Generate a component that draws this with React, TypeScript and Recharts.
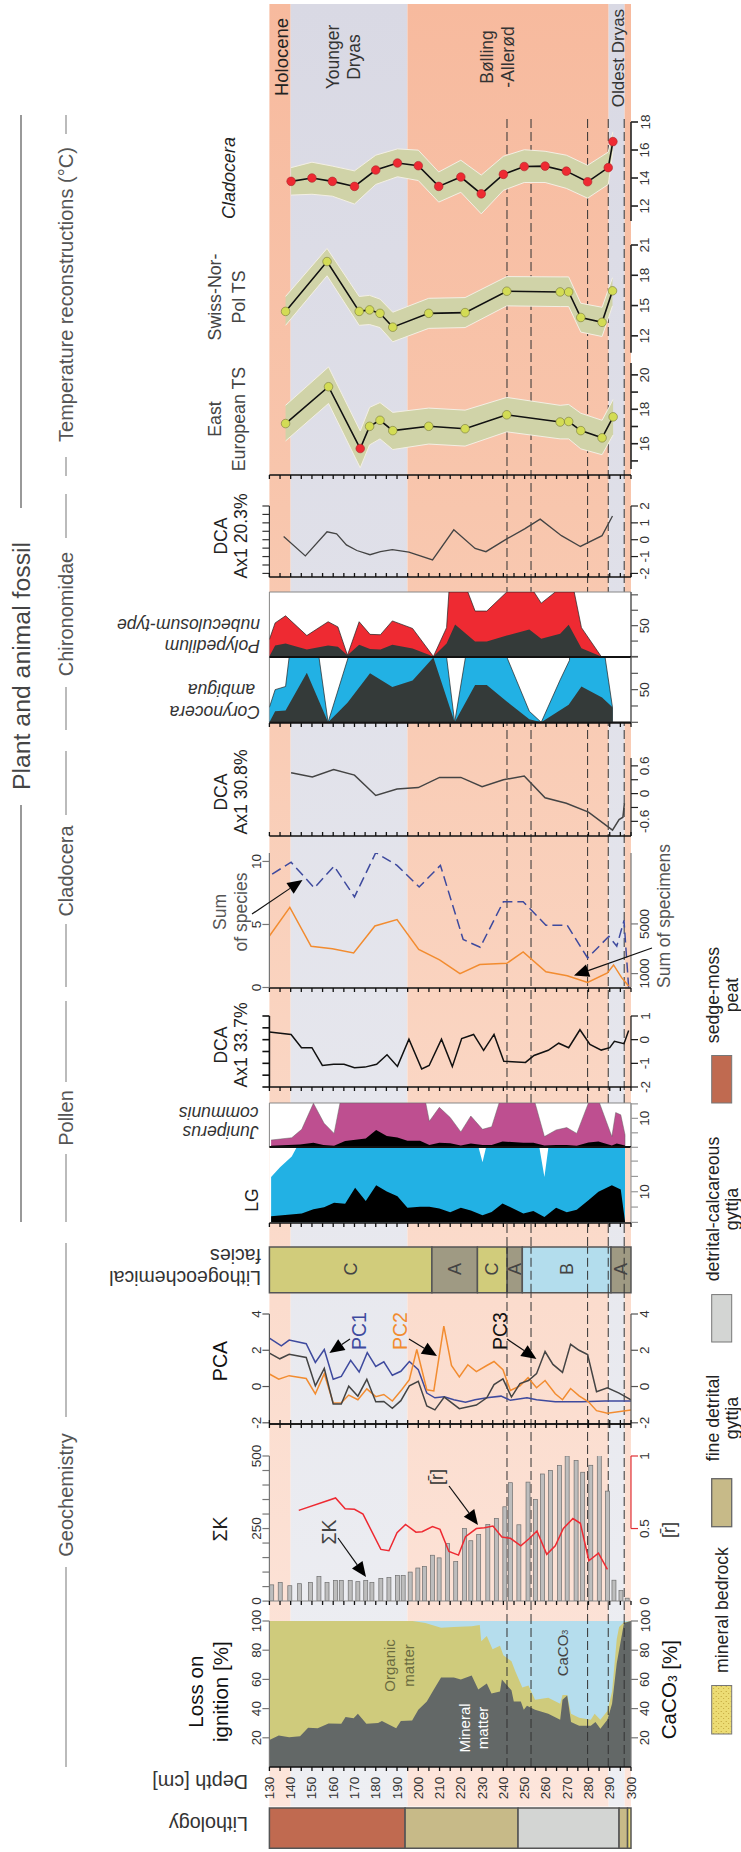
import React from 'react';
import { ComposedChart, XAxis, YAxis, Line, Area, Bar, ReferenceArea, ReferenceLine } from 'recharts';

type P = number[];
const FONT = '"Liberation Sans", Arial, sans-serif';
const X0 = 269.4, X1 = 631, AW = 40, PAD = 14;
const DEPTH_TICKS = [130,135,140,145,150,155,160,165,170,175,180,185,190,195,200,205,210,215,220,225,230,235,240,245,250,255,260,265,270,275,280,285,290,295,300];
const DEPTH_LABELS = [130,140,150,160,170,180,190,200,210,220,230,240,250,260,270,280,290,300];
const ZONE_DASHES = [241.7, 253, 279.6, 289.3, 296.8];
const ZONES = [
  { a: 130, b: 140, f: 'url(#gO)' }, { a: 140, b: 194.9, f: 'url(#gB)' }, { a: 194.9, b: 289.5, f: 'url(#gO)' },
  { a: 289.5, b: 297, f: 'url(#gB)' }, { a: 297, b: 300, f: 'url(#gO)' },
];
const LITHOLOGY = [
  { a: 130, b: 193.8, f: '#c06a50' }, { a: 193.8, b: 246.9, f: '#c7ba88' }, { a: 246.9, b: 294.4, f: '#d3d5d3' },
  { a: 294.4, b: 298.4, f: '#c7ba88' }, { a: 298.4, b: 300, f: '#e8d971' },
];
const FACIES = [
  { a: 130, b: 206.4, f: '#d1cc7b', t: 'C' }, { a: 206.4, b: 227.8, f: '#9f9a83', t: 'A' }, { a: 227.8, b: 241.8, f: '#d1cc7b', t: 'C' },
  { a: 241.8, b: 248.9, f: '#9f9a83', t: 'A' }, { a: 248.9, b: 290.6, f: '#b3dded', t: 'B' }, { a: 290.6, b: 300, f: '#9f9a83', t: 'A' },
];

const cladoD = [140.2,150,159.6,170,180,190.2,200,209.6,220,229.6,240,249.8,259.6,269.6,279.6,289.3,291.5];
const cladoT = [13.76,14,13.76,13.4,14.57,15.07,14.88,13.4,14.07,12.87,14.26,14.82,14.85,14.49,13.73,14.74,16.6];
const cladoHi = [14.74,15.13,14.85,14.51,15.63,16.08,15.99,14.43,15.27,14.21,15.55,16.02,15.91,15.63,14.91,15.85,17.3];
const cladoLo = [12.78,12.84,12.7,12.14,13.54,14.09,13.82,12.28,12.98,11.44,13.12,13.68,13.68,13.26,12.56,13.54,15.9];
const swissD = [137.6,157.1,172.2,177.1,182,188,204.9,222,241.6,266.7,270.7,276.4,286.4,291.3];
const swissT = [14.42,19.36,14.42,14.57,14.23,12.86,14.23,14.3,16.42,16.35,16.35,13.82,13.34,16.46];
const swissHi = [15.9,20.66,15.9,16.01,15.64,14.34,15.72,15.79,17.87,17.84,17.84,15.23,14.83,17.76];
const swissLo = [13.04,17.95,13.04,13.12,12.82,11.41,12.74,12.82,14.97,14.9,14.9,12.37,11.93,14.97];
const eastD = [137.6,157.8,172.7,177.1,182,188,204.9,222,241.6,266.7,270.7,276.4,286.4,291.6];
const eastT = [17.17,19.31,15.72,17.01,17.36,16.76,17.01,16.87,17.68,17.26,17.29,16.76,16.34,17.56];
const eastHi = [18.23,20.46,16.74,18.11,18.39,17.82,18.07,17.95,18.69,18.23,18.28,17.77,17.36,18.57];
const eastLo = [16.16,18.34,14.6,15.93,16.28,15.66,15.98,15.86,16.69,16.28,16.28,15.7,15.36,16.51];
const eastCold = [172.7];

const dcaChiro: P[] = [[136.7,.19],[146.9,-.96],[157.1,.47],[161.6,.35],[166.2,-.31],[171.1,-.64],[177.3,-.89],[182.2,-.71],[187.8,-.59],[195.6,-.73],[206.7,-1.2],[216.7,.59],[226.7,-.52],[231.8,-.71],[241.6,.05],[250,.64],[257.3,1.22],[267.3,.24],[276.2,-.4],[286.4,.24],[291.3,1.41]];
const polyTotal: P[] = [[130,27.6],[132.7,54.5],[137.6,66],[147.6,34],[157.6,56.4],[162.2,48],[166.7,2],[172.2,56.4],[177.3,35.9],[182.2,35.3],[187.8,57.7],[197.3,45.5],[207.1,0],[213.3,46.8],[214.4,104.6],[223.3,104.6],[226.7,73.7],[232.2,73.7],[241.6,104.6],[254.4,104.6],[257.8,86.5],[264.4,104.6],[273.3,104.6],[276.7,46.8],[286,0]];
const polyDark: P[] = [[130,.6],[132.7,17.9],[137.6,21.2],[147.6,11.5],[157.6,17.9],[162.2,16],[166.7,2],[172.2,19.2],[177.3,12.2],[182.2,11.5],[187.8,19.2],[197.3,12.8],[207.1,0],[213.3,21.2],[217.3,51.9],[226.7,24.4],[232.2,24.4],[241.6,34],[252.2,43.6],[257.8,28.8],[266.7,37],[270.7,51.3],[276.7,13.5],[286,0]];
const coryTotal: P[] = [[130,22.9],[132.7,50],[137.6,54.8],[139.3,100],[153.3,100],[157.6,0],[167.1,100],[213.3,100],[217.1,0],[222.2,100],[241.6,100],[252.2,16.9],[257.8,0],[266.7,65],[271.1,95],[271.1,100],[287.8,100],[291.3,22.9],[291.3,0]];
const coryDark: P[] = [[130,0],[132.7,16.9],[137.6,18.1],[147.6,75.9],[157.6,0],[166.7,30],[177.3,75.3],[187.8,54.2],[197.3,63.9],[207.1,99.4],[217.1,0],[226.7,57.2],[232.2,57.2],[241.6,31.9],[252.2,4.8],[257.8,0],[270.7,27],[276.7,54.8],[286.4,38],[291.3,22.9],[291.3,0]];
const dcaClado: P[] = [[140.2,.45],[150.2,.36],[160.2,.52],[170,.4],[180,-.04],[190,.1],[200,.13],[210,.35],[220,.35],[230,.15],[240,.3],[249.8,.38],[259.6,-.09],[269.6,-.21],[280,-.4],[291.3,-.79],[294.4,-.56],[296.2,-.51],[296.9,-.21]];
const species: P[] = [[131.3,9],[140.2,9.94],[151.1,7.9],[160.4,9.63],[170,7.19],[180,10.7],[190,9.69],[200.4,7.97],[210.4,9.69],[221.1,3.81],[229.1,3.19],[240,6.81],[249.3,6.81],[260,4.94],[270,4.94],[279.6,2.34],[289.6,4.06],[293.3,3.28],[296.7,5.31],[298.9,0]];
const specimens: P[] = [[130,4032],[139.6,6336],[149.6,3200],[159.6,3008],[169.6,2656],[179.6,4832],[190,5344],[200.2,2944],[210,2112],[219.6,992],[228.9,1728],[241.6,1824],[249.3,2752],[260,1152],[270,832],[279.6,288],[288.9,1056],[291.8,1696],[295.6,672],[298.9,0]];
const dcaPollen: P[] = [[130,.32],[140.2,.22],[145.1,-.34],[150,-.34],[154.9,-1.09],[160.2,-1.04],[165.1,-1.04],[170,-1.19],[174.9,-1.16],[180.4,-1.04],[185.3,-.64],[190.2,-1.13],[195.6,.02],[201.6,-1.24],[205.1,-1.09],[210.9,.02],[216,-1.14],[220.4,.05],[226,.22],[230.7,-.45],[235.6,.22],[240.2,-.91],[250.4,-.96],[254.4,-.67],[261.1,-.45],[266,-.15],[270.7,-.34],[276,.42],[280.7,-.2],[286,-.44],[290,-.34],[292.2,-.07],[296.7,-.17],[298.9,.39]];
const junipTotal: P[] = [[130.8,2.5],[140.5,3.3],[145.2,6.2],[150.7,15.2],[155.7,8.3],[160.4,4.8],[163.2,15.3],[203.5,15.3],[205.2,9],[209.9,13.8],[215,10.3],[220,5.3],[224.7,10.8],[230.2,6.2],[234.5,7.1],[238,15.3],[254.9,15.3],[259.3,3.7],[264.8,6],[269.8,6.8],[274.5,4.8],[280,15.3],[285.2,15.3],[291,3.7],[292.8,12],[295.2,11.2],[297.2,4.3],[297.2,0]];
const junipDark: P[] = [[130.8,.5],[144.4,1],[150.7,1.6],[155.4,.8],[160.4,.5],[165.6,2.2],[175.3,3],[180.2,6],[185.2,3.9],[190.2,3.4],[194.9,2.3],[200.8,2.3],[205.2,.8],[209.9,1.6],[215,1.4],[220,.6],[224.7,1.3],[230.2,.8],[234.5,.8],[239.6,2],[249.4,1.6],[254.1,1.6],[259.3,.6],[264.8,.8],[269.8,.8],[274.5,.5],[280,1.7],[284.7,2],[291,.6],[293.3,1.3],[297.2,.6],[297.2,0]];
const lgTotal: P[] = [[130.8,14.8],[135,18],[140.5,21.5],[142.9,24.6],[228.3,24.6],[230.2,19.6],[231.9,24.6],[256.9,24.6],[259.3,14.8],[261.2,24.6],[297.2,24.6],[297.2,0]];
const lgDark: P[] = [[130.8,2],[145.2,2.9],[150.7,4.3],[155.7,4.9],[160.4,6.4],[165.6,6.1],[170.3,11.3],[175.3,7],[180.2,12.1],[185.2,10.1],[190.2,8.5],[194.9,4.8],[200.8,5.1],[205.2,5.1],[209.9,4.5],[215,3.3],[220,4.8],[224.7,3.9],[230.2,2.3],[234.5,3.4],[239.6,6.2],[249.4,2.9],[254.1,3.7],[259.3,1.8],[264.8,4.8],[269.8,3.3],[274.5,4.1],[280,7.2],[284.7,10],[291,12.1],[295.2,10.7],[297.2,.3]];
const pc1: P[] = [[130,2.67],[135.6,2.24],[139.3,2.56],[147.3,2.36],[151.6,1.33],[155.8,2.04],[160,.4],[163.8,.56],[168.2,1.44],[172.2,.8],[176,1.87],[180,1.11],[183.8,1.36],[187.8,.62],[191.8,.84],[195.8,1.38],[200,.93],[204,-.36],[207.8,-.62],[212.2,-.56],[216.7,-.73],[222.2,-.87],[226.7,-.73],[232.2,-.62],[238.9,-.53],[243.3,-.76],[251.1,-.62],[255.6,-.73],[264.4,-.84],[276.7,-.84],[287.8,-.8],[300,-.8]];
const pc2: P[] = [[130,.69],[134.4,.4],[139.3,.6],[147.3,.44],[151.6,-.4],[155.8,.71],[160,-.91],[163.8,-.89],[167.3,-.47],[171.6,-.73],[175.8,-.13],[180,-.56],[183.8,-.44],[187.8,-.8],[192.2,-.18],[195.8,.38],[199.3,2.04],[204,-.18],[207.3,-.24],[212,3.33],[215.6,1.16],[219.3,.53],[223.3,1.2],[227.3,.82],[232.2,1.16],[235.6,1.38],[239.8,.93],[243.3,-.22],[247.8,.04],[251.6,.49],[255.6,-.07],[259.6,.33],[264.4,-.4],[267.8,-.73],[271.6,-.11],[275.6,-.51],[280,-.84],[283.8,-1.33],[288.9,-1.47],[300,-1.29]];
const pc3: P[] = [[130,1.84],[134.9,1.53],[139.3,1.78],[147.3,1.6],[151.6,.04],[155.8,1],[160,-.96],[163.8,-.96],[167.3,.02],[171.6,-.53],[175.8,.4],[180,-.84],[183.8,-.82],[187.8,-1.2],[191.8,-.78],[195.8,.04],[200,.29],[204,-1.07],[207.8,-1.29],[212.2,-.58],[219.3,-1.22],[227.3,-1.02],[232.2,-.62],[235.6,.11],[239.8,.42],[243.8,-.58],[247.8,.16],[251.8,.33],[255.6,.71],[259.6,1.93],[263.3,1.22],[267.8,.78],[271.6,2.33],[275.6,2],[279.6,1.76],[283.8,-.29],[288.9,-.07],[294.4,-.36],[300,-.73]];
const sumK: P[] = [[131.1,56],[135.1,64],[139.6,53],[144.2,60],[149.3,64],[153.3,85],[157.1,64],[161.1,71],[163.8,71],[168,71],[171.6,67],[175.3,71],[178.2,64],[182.4,78],[186.2,81],[190.2,88],[192.9,88],[196.2,100],[199.8,114],[202.9,119],[206.7,158],[209.8,149],[213.8,199],[217.6,136],[221.8,250],[224.7,208],[228.4,229],[232.7,264],[236.7,285],[240.7,325],[243.3,408],[247.3,263],[251.6,410],[255.1,350],[258.4,438],[262.2,450],[266.4,467],[270,500],[274.2,485],[277.3,444],[281.1,468],[285.1,514],[288.9,379],[292,72],[295.3,36],[298.2,10]];
const rBar: P[] = [[143.8,.625],[161.1,.711],[165.6,.636],[170,.633],[174,.6],[182.4,.356],[186.2,.347],[190,.472],[194,.528],[198.9,.475],[201.8,.478],[206.7,.514],[210.2,.494],[214.4,.342],[218.9,.317],[222.2,.444],[227.3,.5],[231.1,.506],[235.1,.517],[239.3,.442],[243.3,.433],[248.2,.381],[252.2,.431],[255.8,.483],[260.4,.322],[264.4,.381],[268.2,.5],[272.7,.569],[276.2,.536],[280.2,.278],[284.7,.331],[288.9,.219]];
const mineral: P[] = [[130,18.5],[134.4,21.5],[139.3,20.4],[144.4,21],[148.2,26.8],[152.7,26.5],[157.8,29.8],[163.8,29.6],[165.8,34.3],[169.6,33.4],[171.6,36.5],[175.6,29.6],[181.1,30.1],[182.9,31.5],[189.6,26.5],[191.8,31.5],[197.1,31.8],[200,39.2],[204,44.8],[207.3,53],[210.7,61.3],[216.7,61.3],[220,59.9],[225.1,62.7],[228.2,53],[232.2,57.2],[234.4,50.3],[238.4,51.7],[239.3,59.9],[243.8,52.5],[244.9,44.8],[248.2,44.8],[249.6,39.2],[251.1,42],[254.9,39.2],[261.1,36.5],[266.7,32.3],[267.8,46.1],[270,48.9],[271.8,30.9],[275.6,28.2],[281.1,28.2],[283.3,30.9],[285.6,26.2],[288.9,32.3],[291.1,43.4],[293.3,71],[296.7,98.6],[300,100]];
const organic: P[] = [[130,100],[197.3,100],[203.3,98.6],[210.7,95.3],[216.7,95.9],[225.1,96.4],[228.9,97.2],[229.6,86.2],[232.2,89.8],[234.9,80.7],[238.4,83.1],[240,76.5],[243.8,72.4],[245.6,65.5],[248.9,54.4],[251.8,55.8],[254.9,46.1],[261.1,47.5],[266.7,43.4],[267.8,49.4],[270,49.4],[271.8,36.5],[275.6,33.7],[281.1,32.3],[282.9,36.5],[285.6,32.3],[288.9,38.4],[291.1,51.7],[293.3,87.6],[294.4,95.9],[296.7,99.2],[300,100]];
const caco3: P[] = [[197.3,100],[300,100]];

const rows = (p: P[]) => p.map(([d, v]) => ({ d, v }));
const temps = (d: number[], t: number[], hi: number[], lo: number[]) => d.map((x, i) => ({ d: x, v: t[i], range: [lo[i], hi[i]] }));
const dx = (d: number) => X0 + (d - 130) * (X1 - X0) / 170;
const depthRows = DEPTH_TICKS.map((d) => ({ d, v: 0 }));

const tickLabel = (labels: number[], x: number, fill = '#333', size = 13.5) => (p: any) =>
  labels.includes(p.payload.value)
    ? <text x={x} y={p.y} transform={`rotate(-90 ${x} ${p.y})`} textAnchor="middle" dominantBaseline="central" fontSize={size} fill={fill} fontFamily={FONT}>{p.payload.value}</text>
    : <g />;

function Panel(props: any) {
  const { top, bottom, domain, rDomain, lt, ll = [], rt, rl = [], lc = '#777', rc = '#222', lw = 1.2, rw = 1.2, data, children } = props;
  return (
    <div style={{ position: 'absolute', left: 0, top: top - PAD, pointerEvents: 'none' }}>
      <ComposedChart width={741} height={bottom - top + 2 * PAD} data={data} margin={{ top: PAD, bottom: PAD, left: X0 - AW, right: 741 - X1 - AW }}>
        <XAxis hide type="number" dataKey="d" domain={[130, 300]} allowDataOverflow />
        <YAxis yAxisId="l" orientation="left" width={AW} type="number" domain={domain} allowDataOverflow interval={0}
          ticks={lt || []} axisLine={lt ? { stroke: lc, strokeWidth: lw } : false} tickLine={lt ? { stroke: lc, strokeWidth: lw } : false} tickSize={7}
          tick={tickLabel(ll, X0 - 13)} />
        <YAxis yAxisId="r" orientation="right" width={AW} type="number" domain={rDomain || domain} allowDataOverflow interval={0}
          ticks={rt || []} axisLine={rt ? { stroke: rc, strokeWidth: rw } : false} tickLine={rt ? { stroke: rc, strokeWidth: rw } : false} tickSize={7}
          tick={tickLabel(rl, X1 + 14)} />
        {children}
      </ComposedChart>
    </div>
  );
}

function DepthAxis({ y, up = false, labels = false, line = '#111', lineW = 1.6 }: any) {
  const h = labels ? 45 : 16;
  return (
    <div style={{ position: 'absolute', left: 0, top: up ? y - (h - 1) : y - 1, pointerEvents: 'none' }}>
      <ComposedChart width={741} height={h} data={depthRows} margin={{ top: 0, bottom: 0, left: X0, right: 741 - X1 }}>
        <XAxis type="number" dataKey="d" domain={[130, 300]} allowDataOverflow orientation={up ? 'top' : 'bottom'} height={h - 1} ticks={DEPTH_TICKS} interval={0}
          axisLine={{ stroke: line, strokeWidth: lineW }} tickLine={{ stroke: '#111', strokeWidth: 1.3 }} tickSize={4}
          tick={labels
            ? (p: any) => DEPTH_LABELS.includes(p.payload.value)
              ? <text x={p.x} y={22} transform={`rotate(-90 ${p.x} 22)`} textAnchor="middle" dominantBaseline="central" fontSize={13.5} fill="#333" fontFamily={FONT}>{p.payload.value}</text>
              : <g />
            : () => <g />} />
        <YAxis hide domain={[0, 1]} />
        <Line dataKey="v" stroke="none" dot={false} activeDot={false} isAnimationActive={false} />
      </ComposedChart>
    </div>
  );
}

const AreaFill = ({ rowsData, fill, stroke = 'none', sw = 0.7 }: any) => (
  <Area yAxisId="l" data={rowsData} dataKey="v" type="linear" fill={fill} fillOpacity={1} stroke={stroke} strokeWidth={sw} dot={false} activeDot={false} isAnimationActive={false} />
);
const Trace = ({ rowsData, stroke, sw = 1.5, dash, axis = 'l' }: any) => (
  <Line yAxisId={axis} data={rowsData} dataKey="v" type="linear" stroke={stroke} strokeWidth={sw} strokeDasharray={dash} dot={false} activeDot={false} isAnimationActive={false} />
);
const Dashes = () => <>{ZONE_DASHES.map((d) => <ReferenceLine key={d} yAxisId="l" x={d} stroke="#333" strokeWidth={1} strokeDasharray="9 4" />)}</>;
const WideBar = (p: any) => <rect x={p.x + p.width / 2 - 2} y={p.y} width={4} height={p.height} fill="#bdbdbd" stroke="#6e6e6e" strokeWidth={0.7} />;

const mkDot = (cold: number[] | 'all') => (p: any) => {
  const red = cold === 'all' || cold.includes(p.payload.d);
  return <circle key={p.index} cx={p.cx} cy={p.cy} r={4.3} fill={red ? '#ee2a32' : '#d3dc55'} stroke={red ? '#a8262b' : '#77793a'} strokeWidth={0.6} />;
};
function TempPanel({ top, bottom, domain, ticks, labels, table, cold }: any) {
  return (
    <Panel top={top} bottom={bottom} domain={domain} rt={ticks} rl={labels} rw={1.6}>
      <Area yAxisId="l" data={table} dataKey="range" type="linear" fill="#d0d3a8" fillOpacity={1} stroke="#f3efe4" strokeWidth={1} dot={false} activeDot={false} isAnimationActive={false} />
      <Line yAxisId="l" data={table} dataKey="v" type="linear" stroke="#111" strokeWidth={1.6} dot={mkDot(cold)} activeDot={false} isAnimationActive={false} />
    </Panel>
  );
}

const V = ({ x, y, s = 18, c = '#333', i = false, children }: any) => (
  <text x={x} y={y} transform={`rotate(-90 ${x} ${y})`} textAnchor="middle" dominantBaseline="central" fontSize={s} fill={c} fontStyle={i ? 'italic' : 'normal'} fontFamily={FONT}>{children}</text>
);
const U = ({ x, y, s = 18, c = '#333', i = false, children }: any) => (
  <text x={x} y={y} transform={`rotate(180 ${x} ${y})`} textAnchor="start" dominantBaseline="central" fontSize={s} fill={c} fontStyle={i ? 'italic' : 'normal'} fontFamily={FONT}>{children}</text>
);
function Arrow({ x1, y1, x2, y2, len = 15, half = 6.5 }: any) {
  const a = Math.atan2(y2 - y1, x2 - x1);
  const bx = x2 - len * Math.cos(a), by = y2 - len * Math.sin(a);
  const nx = -Math.sin(a) * half, ny = Math.cos(a) * half;
  return (
    <g>
      <line x1={x1} y1={y1} x2={bx} y2={by} stroke="#111" strokeWidth={1.2} />
      <polygon points={`${x2},${y2} ${bx + nx},${by + ny} ${bx - nx},${by - ny}`} fill="#000" />
    </g>
  );
}
const RULE_1 = [[115, 508], [805, 1222]];
const RULE_2 = [[115, 134], [457, 476], [494, 538], [687, 730], [751, 815], [924, 987], [1001, 1082], [1154, 1222], [1243, 1417], [1567, 1767]];

export default function App() {
  const cladoTable = temps(cladoD, cladoT, cladoHi, cladoLo);
  const swissTable = temps(swissD, swissT, swissHi, swissLo);
  const eastTable = temps(eastD, eastT, eastHi, eastLo);
  return (
    <div style={{ position: 'absolute', left: 0, top: 0, width: 741, height: 1852, overflow: 'hidden', background: '#fff', fontFamily: FONT }}>
      <Panel top={4} bottom={1806.5} domain={[0, 1]}>
        <defs>
          <linearGradient id="gO" x1="0" y1="0" x2="0" y2="1"><stop offset="0" stopColor="#f7ba9e" /><stop offset="0.28" stopColor="#f8c6ad" /><stop offset="0.55" stopColor="#fad3bf" /><stop offset="0.72" stopColor="#fbdccd" /><stop offset="1" stopColor="#fde5db" /></linearGradient>
          <linearGradient id="gB" x1="0" y1="0" x2="0" y2="1"><stop offset="0" stopColor="#d9d9e4" /><stop offset="1" stopColor="#eeeff3" /></linearGradient>
        </defs>
        {ZONES.map((z) => <ReferenceArea key={z.a} yAxisId="l" x1={z.a} x2={z.b} y1={0} y2={1} fill={z.f} fillOpacity={1} stroke="none" />)}
      </Panel>
      <Panel top={118} bottom={1766} domain={[0, 1]}><Dashes /></Panel>

      <TempPanel top={122} bottom={221} domain={[10.93, 18]} ticks={[12, 14, 16, 18]} labels={[12, 14, 16, 18]} table={cladoTable} cold="all" />
      <TempPanel top={245.2} bottom={353} domain={[10.32, 21]} ticks={[12, 15, 18, 21]} labels={[12, 15, 18, 21]} table={swissTable} cold={[]} />
      <TempPanel top={363} bottom={469} domain={[14.53, 20.69]} ticks={[15, 16, 17, 18, 19, 20]} labels={[16, 18, 20]} table={eastTable} cold={eastCold} />

      <DepthAxis y={474.5} />
      <Panel top={506} bottom={577.3} domain={[-2.23, 2]} lt={[-2, -1.5, -1, -0.5, 0, 0.5, 1, 1.5, 2]} rt={[-2, -1, 0, 1, 2]} rl={[-2, -1, 0, 1, 2]} lc="#333">
        <Trace rowsData={rows(dcaChiro)} stroke="#444" sw={1.3} />
      </Panel>
      <DepthAxis y={577.3} up />

      <Panel top={592} bottom={656.5} domain={[0, 104.6]} rt={[0, 25, 50, 75, 100]} rl={[50]} rc="#555">
        <ReferenceArea yAxisId="l" x1={130} x2={300} y1={0} y2={104.6} fill="#fff" fillOpacity={1} stroke="#888" />
        <AreaFill rowsData={rows(polyTotal)} fill="#ee2a32" stroke="#222" />
        <AreaFill rowsData={rows(polyDark)} fill="#343a39" />
      </Panel>
      <Panel top={656.5} bottom={721.8} domain={[0, 100]} rt={[0, 25, 50, 75, 100]} rl={[50]} rc="#555">
        <ReferenceArea yAxisId="l" x1={130} x2={300} y1={0} y2={100} fill="#fff" fillOpacity={1} stroke="#888" />
        <AreaFill rowsData={rows(coryTotal)} fill="#22b1e4" stroke="#222" />
        <AreaFill rowsData={rows(coryDark)} fill="#343a39" />
        <ReferenceLine yAxisId="l" y={100} stroke="#111" strokeWidth={2} />
        <ReferenceLine yAxisId="l" y={0} stroke="#222" strokeWidth={1.5} />
      </Panel>
      <DepthAxis y={723.4} />

      <Panel top={758} bottom={836} domain={[-0.917, 0.77]} rt={[-0.6, -0.3, 0, 0.3, 0.6]} rl={[-0.6, 0, 0.6]}>
        <Trace rowsData={rows(dcaClado)} stroke="#444" />
      </Panel>
      <DepthAxis y={836} up />

      <Panel top={853} bottom={987.5} domain={[0, 10.67]} rDomain={[-120, 10712]} lt={[0, 5, 10]} ll={[0, 5, 10]} rt={[1000, 5000]} rl={[1000, 5000]} rc="#777">
        <Trace rowsData={rows(species)} stroke="#3e4a9e" dash="10 5" />
        <Trace rowsData={rows(specimens)} stroke="#f28c30" axis="r" />
      </Panel>
      <DepthAxis y={987.5} />

      <Panel top={1015.7} bottom={1086.7} domain={[-2, 1]} lt={[-2, -1.5, -1, -0.5, 0, 0.5, 1]} rt={[-2, -1, 0, 1]} rl={[-2, -1, 0, 1]} lc="#111" rc="#111" lw={1.6}>
        <Trace rowsData={rows(dcaPollen)} stroke="#111" />
      </Panel>
      <DepthAxis y={1086.7} />

      <Panel top={1103} bottom={1147.3} domain={[0, 15.3]} rt={[0, 5, 10, 15]} rl={[10]} rc="#999">
        <ReferenceArea yAxisId="l" x1={130} x2={300} y1={0} y2={15.3} fill="#fff" fillOpacity={1} stroke="#888" />
        <AreaFill rowsData={rows(junipTotal)} fill="#be4f90" stroke="#666" sw={0.5} />
        <AreaFill rowsData={rows(junipDark)} fill="#000" />
      </Panel>
      <Panel top={1147.3} bottom={1222.7} domain={[0, 24.6]} rt={[0, 5, 10, 15, 20]} rl={[10]} rc="#999">
        <ReferenceArea yAxisId="l" x1={130} x2={297.2} y1={0} y2={24.6} fill="#fff" fillOpacity={1} stroke="none" />
        <AreaFill rowsData={rows(lgTotal)} fill="#22b1e4" />
        <AreaFill rowsData={rows(lgDark)} fill="#000" />
        <ReferenceLine yAxisId="l" y={24.6} stroke="#111" strokeWidth={2} />
      </Panel>
      <DepthAxis y={1222.7} />

      <Panel top={1246.8} bottom={1292.6} domain={[0, 1]}>
        {FACIES.map((z) => <ReferenceArea key={z.a} yAxisId="l" x1={z.a} x2={z.b} y1={0} y2={1} fill={z.f} fillOpacity={1} stroke="#555" strokeWidth={1.5} />)}
        <Dashes />
      </Panel>

      <Panel top={1313.9} bottom={1422.7} domain={[-2, 4]} lt={[-2, 0, 2, 4]} ll={[-2, 0, 2, 4]} rt={[-2, 0, 2, 4]} rl={[-2, 0, 2, 4]} lc="#555" rc="#555">
        <Trace rowsData={rows(pc1)} stroke="#3e4a9e" />
        <Trace rowsData={rows(pc2)} stroke="#f28c30" />
        <Trace rowsData={rows(pc3)} stroke="#444" />
      </Panel>
      <DepthAxis y={1423.5} />
      <DepthAxis y={1423.5} up />

      <Panel top={1455.8} bottom={1600.9} domain={[0, 500]} rDomain={[0, 1]} data={rows(sumK)}
        lt={[0, 50, 100, 150, 200, 250, 300, 350, 400, 450, 500]} ll={[0, 250, 500]} rt={[0, 0.5, 1]} rl={[0, 0.5, 1]} rc="transparent">
        <Bar yAxisId="l" dataKey="v" barSize={4} shape={WideBar} isAnimationActive={false} />
        <Trace rowsData={rows(rBar)} stroke="#ee2a32" axis="r" />
      </Panel>
      <Panel top={1455.8} bottom={1528.35} domain={[0.5, 1]} rt={[0.5, 1]} rc="#e03035"></Panel>
      <DepthAxis y={1601} line="#888" lineW={1.2} />

      <Panel top={1621} bottom={1767} domain={[0, 100]} lt={[20, 40, 60, 80, 100]} ll={[20, 40, 60, 80, 100]} rt={[20, 40, 60, 80, 100]} rl={[20, 40, 60, 80, 100]} lc="#777" rc="#777">
        <AreaFill rowsData={rows(caco3)} fill="#b5dded" />
        <AreaFill rowsData={rows(organic)} fill="#cfcb7c" />
        <AreaFill rowsData={rows(mineral)} fill="#636867" />
        <Dashes />
      </Panel>
      <DepthAxis y={1767} labels />

      <Panel top={1807.7} bottom={1848} domain={[0, 1]}>
        {LITHOLOGY.map((z) => <ReferenceArea key={z.a} yAxisId="l" x1={z.a} x2={z.b} y1={0} y2={1} fill={z.f} fillOpacity={1} stroke="#555" strokeWidth={1.5} />)}
      </Panel>

      <svg width={741} height={1852} style={{ position: 'absolute', left: 0, top: 0, pointerEvents: 'none' }}>
        <defs>
          <pattern id="sand" width="5" height="5" patternUnits="userSpaceOnUse">
            <rect width="5" height="5" fill="#ecdc74" /><circle cx="1.2" cy="1.5" r="0.6" fill="#b99a30" /><circle cx="3.7" cy="3.6" r="0.5" fill="#b99a30" />
          </pattern>
        </defs>
        {RULE_1.map(([a, b]) => <line key={a} x1={21} x2={21} y1={a} y2={b} stroke="#777" strokeWidth={1.5} />)}
        {RULE_2.map(([a, b]) => <line key={a} x1={66} x2={66} y1={a} y2={b} stroke="#a5a5a5" strokeWidth={1.5} />)}
        <V x={21} y={666} s={24.8} c="#444">Plant and animal fossil</V>
        <V x={66} y={294.6} s={20} c="#555">Temperature reconstructions (°C)</V>
        <V x={66} y={614} s={20} c="#555">Chironomidae</V>
        <V x={66} y={871} s={20} c="#555">Cladocera</V>
        <V x={66} y={1118} s={20} c="#555">Pollen</V>
        <V x={66} y={1495} s={20} c="#555">Geochemistry</V>

        <V x={281} y={57} s={18.5} c="#222">Holocene</V>
        <V x={333} y={57} s={17.5}>Younger</V>
        <V x={353.5} y={57} s={17.5}>Dryas</V>
        <V x={487} y={57} s={17.5}>Bølling</V>
        <V x={508} y={57} s={17.5}>-Allerød</V>
        <V x={618} y={58} s={17}>Oldest Dryas</V>

        <V x={229} y={178} s={18} i c="#222">Cladocera</V>
        <V x={215} y={297} s={17.8} c="#444">Swiss-Nor-</V>
        <V x={238.6} y={297} s={17.8} c="#444">Pol TS</V>
        <V x={215} y={419} s={17.8} c="#444">East</V>
        <V x={238.6} y={419} s={17.8} c="#444">European TS</V>

        <V x={220.7} y={536} s={17.6} c="#222">DCA</V>
        <V x={241} y={536} s={17.6} c="#222">Ax1 20.3%</V>
        <V x={220.7} y={792} s={17.6} c="#222">DCA</V>
        <V x={241} y={792} s={17.6} c="#222">Ax1 30.8%</V>
        <V x={220.7} y={1045} s={17.6} c="#222">DCA</V>
        <V x={241} y={1045} s={17.6} c="#222">Ax1 33.7%</V>

        <U x={260} y={624.5} s={17.5} i>nubeculosum-type</U>
        <U x={260} y={645.5} s={17.5} i>Polypedilum</U>
        <U x={255} y={690} s={17.5} i>ambigua</U>
        <U x={260} y={712} s={17.5} i>Corynocera</U>
        <U x={258.5} y={1113} s={17.5} i>communis</U>
        <U x={258.5} y={1132} s={17.5} i>Juniperus</U>
        <V x={252} y={1200} s={17.5} c="#222">LG</V>
        <U x={261} y={1255.5} s={19.5}>facies</U>
        <U x={261} y={1278.4} s={19.5}>Lithogeochemical</U>
        {FACIES.map((z) => <V key={z.a} x={dx((z.a + z.b) / 2)} y={1269} s={18} c="#444">{z.t}</V>)}

        <V x={219.8} y={1361} s={19.6} c="#111">PCA</V>
        <V x={359} y={1331} s={19.5} c="#3e4a9e">PC1</V>
        <V x={400} y={1331} s={19.5} c="#f28c30">PC2</V>
        <V x={499.5} y={1331} s={19.5} c="#111">PC3</V>
        <V x={219.8} y={1529} s={19.5} c="#222">ΣK</V>
        <V x={328.5} y={1532} s={19.5} c="#444">ΣK</V>
        <V x={437} y={1477} s={18} c="#333">[r̄]</V>
        <V x={668.7} y={1530} s={18} c="#333">[r̄]</V>
        <V x={196} y={1691.6} s={20.6} c="#111">Loss on</V>
        <V x={221} y={1691.6} s={20.6} c="#111">ignition [%]</V>
        <V x={668.7} y={1689.6} s={20.6} c="#111">CaCO<tspan fontSize={12} dy={4}>3</tspan><tspan dy={-4}> [%]</tspan></V>
        <V x={390} y={1665.4} s={15} c="#6b6b40">Organic</V>
        <V x={409} y={1665.4} s={15} c="#6b6b40">matter</V>
        <V x={464} y={1728} s={15} c="#fff">Mineral</V>
        <V x={482} y={1728} s={15} c="#fff">matter</V>
        <V x={562} y={1653} s={15} c="#444">CaCO<tspan fontSize={9} dy={3}>3</tspan></V>
        <V x={219.8} y={912} s={17.5} c="#555">Sum</V>
        <V x={241} y={912} s={17.5} c="#555">of species</V>
        <V x={664} y={916} s={17.5} c="#555">Sum of specimens</V>
        <U x={248} y={1782} s={19.8}>Depth [cm]</U>
        <U x={248} y={1824} s={19.8}>Lithology</U>

        <Arrow x1={252} y1={914} x2={302.5} y2={880} />
        <Arrow x1={652} y1={948} x2={574} y2={975.6} />
        <Arrow x1={338} y1={1538} x2={366} y2={1577} />
        <Arrow x1={449} y1={1486} x2={478} y2={1525} />
        <Arrow x1={350} y1={1339} x2={329.4} y2={1353} />
        <Arrow x1={409} y1={1339} x2={437} y2={1356} />
        <Arrow x1={507} y1={1339} x2={536.4} y2={1359} />

        <rect x={711.7} y={1055.5} width={20} height={47.5} fill="#c06a50" stroke="#777" />
        <rect x={711.7} y={1294.6} width={20} height={47.4} fill="#d3d5d3" stroke="#777" />
        <rect x={711.7} y={1478.7} width={20} height={48} fill="#c7ba88" stroke="#666" strokeWidth={1.3} />
        <rect x={711.7} y={1685.5} width={20} height={48.5} fill="url(#sand)" stroke="#777" />
        <V x={712.5} y={995} s={17.7} c="#222">sedge-moss</V>
        <V x={731.5} y={995} s={17.7} c="#222">peat</V>
        <V x={712.5} y={1209} s={17.7} c="#222">detrital-calcareous</V>
        <V x={731.5} y={1209} s={17.7} c="#222">gyttja</V>
        <V x={712.5} y={1418} s={17.7} c="#222">fine detrital</V>
        <V x={731.5} y={1418} s={17.7} c="#222">gyttja</V>
        <V x={722} y={1610} s={17.7} c="#222">mineral bedrock</V>
      </svg>
    </div>
  );
}
